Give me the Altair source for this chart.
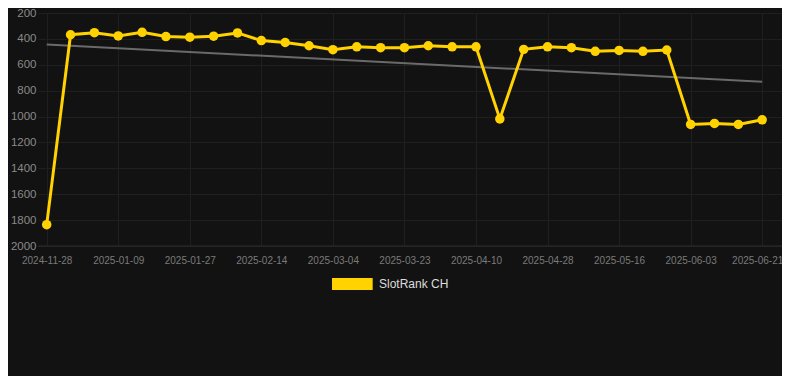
import altair as alt
import pandas as pd

dates = ["2024-11-28", "2024-12-28", "2025-01-03", "2025-01-09", "2025-01-15", "2025-01-21",
         "2025-01-27", "2025-02-02", "2025-02-08", "2025-02-14", "2025-02-20", "2025-02-26",
         "2025-03-04", "2025-03-10", "2025-03-17", "2025-03-23", "2025-03-29", "2025-04-04",
         "2025-04-10", "2025-04-16", "2025-04-22", "2025-04-28", "2025-05-04", "2025-05-10",
         "2025-05-16", "2025-05-22", "2025-05-28", "2025-06-03", "2025-06-09", "2025-06-15",
         "2025-06-21"]
ranks = [1835, 368, 352, 377, 349, 382, 387, 379, 354, 413, 428, 453, 483, 461, 468, 468,
         453, 461, 461, 1018, 481, 461, 468, 496, 489, 496, 486, 1061, 1053, 1061, 1025]
series_name = "SlotRank CH"
trend_dates = [dates[0], dates[-1]]
trend_values = [443, 732]
y_ticks = [200, 400, 600, 800, 1000, 1200, 1400, 1600, 1800, 2000]
x_label_dates = dates[::3]

df = pd.DataFrame({"date": dates, "rank": ranks, "series": series_name})
trend_df = pd.DataFrame({"date": trend_dates, "rank": trend_values})
base_df = pd.DataFrame({"rank": [y_ticks[-1]]})

YELLOW = "#FFD200"

x_enc = alt.X(
    "date:O",
    scale=alt.Scale(type="point", domain=dates, padding=0.598, align=0.305),
    axis=alt.Axis(
        values=x_label_dates, labelAngle=0, title=None, ticks=False, domain=False,
        labelColor="#7a7a7a", labelFontSize=10, labelFont="Arial", labelPadding=9,
        grid=True, gridColor="#1f1f1f", gridWidth=1, labelOverlap=False,
        labelOffset=alt.ExprRef(expr=f"datum.value == '{dates[-1]}' ? -5 : 0"),
    ),
)
y_enc = alt.Y(
    "rank:Q",
    scale=alt.Scale(domain=[200, 2000], reverse=True, nice=False, zero=False),
    axis=alt.Axis(
        values=y_ticks, format="d", title=None, ticks=False, domain=False,
        labelColor="#8a8a8a", labelFontSize=11.5, labelFont="Arial", labelPadding=2,
        grid=True, gridColor="#1f1f1f", gridWidth=1,
    ),
)

baseline = alt.Chart(base_df).mark_rule(color="#2c2c2c", strokeWidth=1).encode(y=y_enc)
trend = alt.Chart(trend_df).mark_line(color="#6a6a6a", strokeWidth=2).encode(x=x_enc, y=y_enc)
line = alt.Chart(df).mark_line(color=YELLOW, strokeWidth=3).encode(x=x_enc, y=y_enc)
points = alt.Chart(df).mark_circle(size=90, opacity=1).encode(
    x=x_enc, y=y_enc,
    color=alt.Color(
        "series:N",
        scale=alt.Scale(domain=[series_name], range=[YELLOW]),
        legend=alt.Legend(
            title=None, orient="none", legendX=294, legendY=265, padding=0,
            symbolType="M-1,-1H5.78V1H-1Z", symbolSize=144, symbolStrokeWidth=0,
            symbolOpacity=1, labelOffset=35, labelColor="#dddddd", labelFontSize=12,
            labelFont="Arial",
        ),
    ),
)

chart = (
    alt.layer(baseline, trend, line, points)
    .properties(
        width=744, height=233, background="#121212",
        padding={"left": 30, "top": 5, "right": 0, "bottom": 130},
        autosize=alt.AutoSizeParams(type="none"),
    )
    .configure_view(stroke=None)
)
chart.save("out.html", embed_options={"renderer": "svg", "actions": False})
